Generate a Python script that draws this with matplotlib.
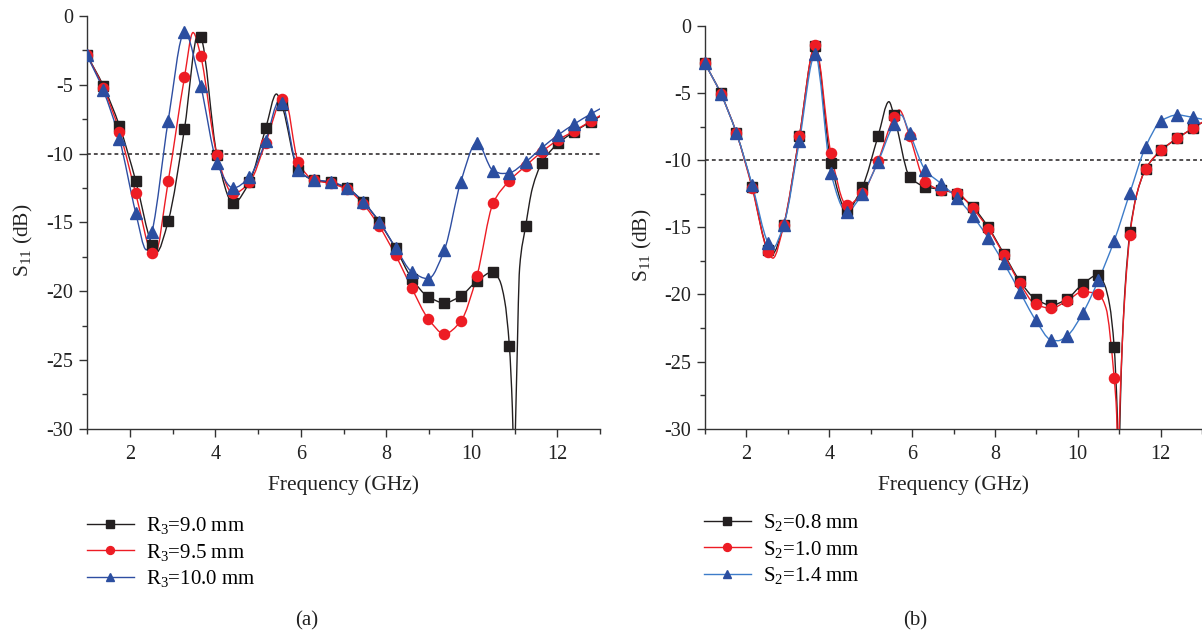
import numpy as np
import matplotlib
matplotlib.use("Agg")
import matplotlib.pyplot as plt
from matplotlib.path import Path
from matplotlib.patches import PathPatch
from matplotlib.lines import Line2D
from matplotlib.ticker import MultipleLocator

plt.rcParams['font.family'] = ['Liberation Serif', 'DejaVu Serif']
plt.rcParams['mathtext.fontset'] = 'custom'
plt.rcParams['mathtext.rm'] = 'Liberation Serif'
plt.rcParams['mathtext.it'] = 'Liberation Serif:italic'
plt.rcParams['axes.unicode_minus'] = False

# ---------------- data ----------------
freq = [1.00, 1.38, 1.76, 2.14, 2.52, 2.90, 3.28, 3.66, 4.04, 4.42, 4.80, 5.18,
        5.56, 5.94, 6.32, 6.70, 7.08, 7.46, 7.84, 8.22, 8.60, 8.98, 9.36, 9.74,
        10.12, 10.50, 10.88, 11.26, 11.64, 12.02, 12.40, 12.78]

# panel (a): R3 variation
r3_90 = [-2.84, -5.07, -8.0, -11.98, -16.65, -14.9, -8.2, -1.5, -10.1, -13.6, -12.05, -8.17,
         -6.5, -11.2, -11.93, -12.1, -12.5, -13.5, -15.0, -16.9, -19.1, -20.4, -20.85, -20.36,
         -19.27, -18.6, -23.98, -15.3, -10.67, -9.26, -8.4, -7.7]
r3_95 = [-2.84, -5.2, -8.4, -12.9, -17.26, -12.0, -4.46, -2.9, -10.1, -12.9, -12.1, -9.2,
         -6.04, -10.6, -11.95, -12.17, -12.6, -13.67, -15.3, -17.4, -19.8, -22.0, -23.1, -22.2,
         -18.9, -13.6, -11.98, -10.9, -9.87, -9.0, -8.36, -7.64]
r3_100 = [-2.84, -5.4, -8.95, -14.3, -15.7, -7.6, -1.19, -5.1, -10.67, -12.5, -11.7, -9.07,
          -6.3, -11.2, -11.9, -12.05, -12.5, -13.5, -14.96, -16.85, -18.6, -19.1, -17.0, -12.1,
          -9.2, -11.25, -11.4, -10.6, -9.58, -8.65, -7.85, -7.13]
# extra curve points between markers (peaks, dips, ends)
r3_90_xf = [2.62, 3.60, 5.43, 10.65, 10.77, 10.95, 10.99, 11.04, 11.12, 11.42, 13.0]
r3_90_xv = [-17.2, -1.3, -5.67, -19.2, -20.7, -28.5, -33.0, -27.5, -18.3, -12.5, -7.3]
r3_95_xf = [2.58, 3.48, 5.62, 13.0]
r3_95_xv = [-17.4, -1.2, -5.95, -7.25]
r3_100_xf = [2.39, 5.50, 10.72, 13.0]
r3_100_xv = [-17.0, -6.15, -11.45, -6.75]

# panel (b): S2 variation
s2_08 = [-2.8, -5.03, -8.0, -11.98, -16.7, -14.83, -8.2, -1.5, -10.2, -13.7, -11.98, -8.2,
         -6.64, -11.23, -11.98, -12.2, -12.53, -13.47, -15.0, -17.0, -19.0, -20.34, -20.8, -20.34,
         -19.22, -18.55, -23.94, -15.37, -10.66, -9.25, -8.38, -7.63]
s2_10 = [-2.8, -5.05, -8.0, -12.1, -16.82, -14.83, -8.2, -1.43, -9.5, -13.35, -12.47, -10.04,
         -6.82, -8.2, -11.6, -12.23, -12.43, -13.58, -15.1, -17.07, -19.17, -20.74, -21.03, -20.47,
         -19.8, -19.97, -26.25, -15.57, -10.66, -9.25, -8.38, -7.63]
s2_14 = [-2.8, -5.05, -8.0, -11.86, -16.15, -14.83, -8.55, -2.12, -10.98, -13.84, -12.5, -10.12,
         -7.31, -8.0, -10.74, -11.75, -12.8, -14.15, -15.8, -17.69, -19.8, -21.9, -23.39, -23.1,
         -21.4, -18.93, -16.0, -12.43, -9.0, -7.07, -6.64, -6.82]
s2_08_xf = [2.62, 5.44, 10.65, 10.77, 10.95, 10.99, 11.03, 11.07, 11.15, 11.42, 13.0]
s2_08_xv = [-17.0, -5.65, -19.3, -20.8, -28.5, -33.0, -28.0, -24.0, -19.2, -12.6, -7.2]
s2_10_xf = [2.64, 5.69, 10.68, 10.94, 10.97, 11.01, 11.07, 11.15, 11.42, 13.0]
s2_10_xv = [-17.3, -6.27, -21.0, -29.0, -33.0, -29.0, -24.0, -19.5, -12.6, -7.2]
s2_14_xf = [2.62, 5.73, 9.52, 13.0]
s2_14_xv = [-16.6, -6.64, -23.45, -6.95]

# ---------------- styles ----------------
BLACK = '#231f20'
RED = '#ed1c24'
BLUE_M = '#2b4ea0'
BLUE_LA = '#2e4ea2'
BLUE_LB = '#3d7cc9'
AXC = '#333333'
TXT = '#222222'


def smooth_line(ax, xs, ys, color, lw=1.0, zorder=2):
    order = np.argsort(xs)
    x = np.asarray(xs, float)[order]
    y = np.asarray(ys, float)[order]
    h = np.diff(x)
    d = np.diff(y) / h
    n = len(x)
    m = np.zeros(n)
    m[0] = d[0]
    m[-1] = d[-1]
    for i in range(1, n - 1):
        if d[i - 1] * d[i] <= 0:
            m[i] = 0.0
        else:
            w1 = 2 * h[i] + h[i - 1]
            w2 = h[i] + 2 * h[i - 1]
            m[i] = (w1 + w2) / (w1 / d[i - 1] + w2 / d[i])
    verts = [(x[0], y[0])]
    codes = [Path.MOVETO]
    for i in range(n - 1):
        verts += [(x[i] + h[i] / 3, y[i] + m[i] * h[i] / 3),
                  (x[i + 1] - h[i] / 3, y[i + 1] - m[i + 1] * h[i] / 3),
                  (x[i + 1], y[i + 1])]
        codes += [Path.CURVE4] * 3
    patch = PathPatch(Path(verts, codes), fill=False, edgecolor=color, lw=lw,
                      zorder=zorder, capstyle='round', joinstyle='round')
    ax.add_patch(patch)


def style_axes(ax):
    ax.set_xlim(1, 13)
    ax.set_ylim(-30, 0)
    for s in ['top', 'right']:
        ax.spines[s].set_visible(False)
    for s in ['left', 'bottom']:
        ax.spines[s].set_color(AXC)
        ax.spines[s].set_linewidth(1.0)
    ax.xaxis.set_major_locator(MultipleLocator(2))
    ax.xaxis.set_minor_locator(MultipleLocator(1))
    ax.yaxis.set_major_locator(MultipleLocator(5))
    ax.yaxis.set_minor_locator(MultipleLocator(2.5))
    ax.tick_params(which='major', direction='out', length=6, width=1.0, color=AXC,
                   labelsize=14.5, labelcolor=TXT)
    ax.tick_params(which='minor', direction='out', length=3.5, width=1.0, color=AXC)
    ax.tick_params(axis='x', which='major', pad=5.5)
    ax.tick_params(axis='y', which='major', pad=4)
    ax.axhline(-10, color=BLACK, lw=1.1, ls=(0, (2.5, 2)), zorder=1)
    ax.set_xlabel('Frequency (GHz)', fontsize=15.5, color=TXT, labelpad=8)
    ax.set_ylabel(r'S$_{\mathrm{11}}$ (dB)', fontsize=15.5, color=TXT)


W, H = 1202, 635
fig = plt.figure(figsize=(W / 100, H / 100), dpi=100)
axa = fig.add_axes([87 / W, 1 - 428.7 / H, 513 / W, 412.7 / H])
axb = fig.add_axes([705 / W, 1 - 428.7 / H, 497 / W, 402.9 / H])

LEG = dict(loc='upper left', frameon=False, fontsize=15, handlelength=2.25,
           handletextpad=0.6, labelspacing=0.27, borderpad=0, borderaxespad=0)

# panel (a)
style_axes(axa)
axa.yaxis.set_label_coords(-0.101, 0.457)
series_a = [
    (r3_90, r3_90_xf, r3_90_xv, BLACK, BLACK, 's', 6.5, r'R$_{\mathrm{3}}$=9.0 mm'),
    (r3_95, r3_95_xf, r3_95_xv, RED, RED, 'o', 7.3, r'R$_{\mathrm{3}}$=9.5 mm'),
    (r3_100, r3_100_xf, r3_100_xv, BLUE_LA, BLUE_M, '^', 8.0, r'R$_{\mathrm{3}}$=10.0 mm'),
]
handles = []
for k, (vals, xf, xv, lc, mc, mk, ms, lab) in enumerate(series_a):
    smooth_line(axa, list(freq) + xf, list(vals) + xv, lc, lw=1.0, zorder=2 + k)
    axa.plot(freq, vals, ls='none', marker=mk, ms=ms, mfc=mc, mec=mc, zorder=5 + k)
    handles.append(Line2D([], [], color=lc, lw=1.0, marker=mk, ms=ms * 0.78, mfc=mc, mec=mc, label=lab))
fig.legend(handles=handles, bbox_to_anchor=(87 / W, 1 - 515 / H), **LEG)

# panel (b)
style_axes(axb)
axb.yaxis.set_label_coords(-0.103, 0.456)
series_b = [
    (s2_08, s2_08_xf, s2_08_xv, BLACK, BLACK, 's', 6.5, r'S$_{\mathrm{2}}$=0.8 mm'),
    (s2_10, s2_10_xf, s2_10_xv, RED, RED, 'o', 7.3, r'S$_{\mathrm{2}}$=1.0 mm'),
    (s2_14, s2_14_xf, s2_14_xv, BLUE_LB, BLUE_M, '^', 8.0, r'S$_{\mathrm{2}}$=1.4 mm'),
]
handles = []
for k, (vals, xf, xv, lc, mc, mk, ms, lab) in enumerate(series_b):
    smooth_line(axb, list(freq) + xf, list(vals) + xv, lc, lw=1.0, zorder=2 + k)
    axb.plot(freq, vals, ls='none', marker=mk, ms=ms, mfc=mc, mec=mc, zorder=5 + k, clip_on=False)
    handles.append(Line2D([], [], color=lc, lw=1.0, marker=mk, ms=ms * 0.78, mfc=mc, mec=mc, label=lab))
fig.legend(handles=handles, bbox_to_anchor=(704 / W, 1 - 512 / H), **LEG)

fig.text(307 / W, 1 - 621 / H, '(a)', ha='center', va='center', fontsize=15, color=TXT)
fig.text(915 / W, 1 - 621 / H, '(b)', ha='center', va='center', fontsize=15, color=TXT)

fig.savefig('out.png', dpi=100)
